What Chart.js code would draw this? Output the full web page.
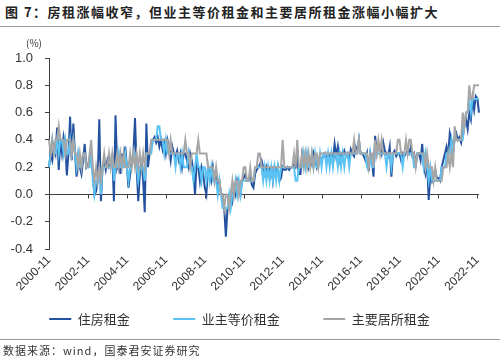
<!DOCTYPE html>
<html>
<head>
<meta charset="utf-8">
<title>房租涨幅收窄</title>
<script src="https://cdn.jsdelivr.net/npm/chart.js@4.4.0/dist/chart.umd.min.js"></script>
<style>
    body {
        margin: 0;
        background: #fff;
    }
    #wrap {
        position: relative;
        width: 500px;
        height: 361px;
        overflow: hidden;
        font-family: "Noto Sans CJK SC", sans-serif;
        color: #333;
    }
    #title {
        position: absolute;
        left: 5px;
        top: 3px;
        font-size: 13px;
        font-weight: bold;
        letter-spacing: 1.5px;
        line-height: 18px;
        white-space: nowrap;
        color: #222;
    }
    .rule {
        position: absolute;
        left: 0;
        width: 500px;
        height: 1px;
        background: #9a9a9a;
    }
    #unit {
        position: absolute;
        left: 26px;
        top: 37px;
        font-size: 10px;
        line-height: 12px;
    }
    #src {
        position: absolute;
        left: 3px;
        top: 343px;
        font-size: 11px;
        letter-spacing: 1px;
        line-height: 15px;
        white-space: nowrap;
    }
    canvas {
        position: absolute;
        left: 0;
        top: 0;
    }
</style>
</head>
<body>
<div id="wrap">
    <div id="title">图 7：房租涨幅收窄，但业主等价租金和主要居所租金涨幅小幅扩大</div>
    <div class="rule" style="top:26px"></div>
    <canvas id="rentChart" width="500" height="361"></canvas>
    <div id="unit">(%)</div>
    <div class="rule" style="top:339px"></div>
    <div id="src">数据来源：wind，国泰君安证券研究</div>
</div>

<script>
    // 月度数据 2000-11 ~ 2022-12，环比(%)，每行12个月（11月~次年10月）
    const startYear = 2000, startMonth = 11;
    const tickEvery = 24;   // 每两年一个刻度
    const yTicks = [-0.4, -0.2, 0.0, 0.2, 0.4, 0.6, 0.8, 1.0];

    // 住房租金
    const rent = [
        0.20, 0.30, 0.25, 0.35, 0.30, 0.49, 0.18, 0.40, 0.30, 0.42, 0.35, 0.14,
        0.30, 0.57, 0.25, 0.52, 0.30, 0.13, 0.28, 0.20, 0.15, 0.25, 0.37, 0.20,
        0.22, 0.25, 0.30, 0.15, 0.00, 0.02, 0.10, 0.55, -0.05, 0.20, 0.25, 0.18,
        0.25, 0.20, 0.22, 0.30, -0.05, 0.58, 0.20, 0.25, 0.15, 0.30, 0.20, 0.35,
        0.20, 0.05, 0.15, 0.25, 0.30, 0.56, 0.20, -0.05, 0.15, 0.25, 0.10, -0.13,
        0.52, 0.20, 0.30, 0.35, 0.40, 0.42, 0.38, 0.42, 0.35, 0.40, 0.33, 0.38,
        0.30, 0.40, 0.35, 0.25, 0.35, 0.30, 0.28, 0.32, 0.25, 0.30, 0.20, 0.30,
        0.30, 0.25, 0.20, 0.30, 0.25, 0.15, 0.00, 0.25, 0.20, 0.10, 0.20, 0.15,
        0.05, 0.00, 0.20, 0.15, 0.10, 0.20, 0.10, 0.15, 0.05, 0.10, 0.00, 0.00,
        -0.10, -0.31, -0.10, -0.10, 0.00, -0.05, 0.05, 0.00, 0.10, 0.05, 0.00, 0.10,
        0.12, 0.15, 0.10, 0.10, 0.15, 0.07, 0.05, 0.15, 0.18, 0.20, 0.22, 0.25,
        0.20, 0.15, 0.20, 0.15, 0.20, 0.20, 0.10, 0.20, 0.15, 0.20, 0.10, 0.12,
        0.20, 0.18, 0.18, 0.20, 0.18, 0.20, 0.20, 0.22, 0.20, 0.25, 0.15, 0.15,
        0.30, 0.25, 0.22, 0.28, 0.20, 0.25, 0.22, 0.30, 0.25, 0.20, 0.25, 0.28,
        0.25, 0.28, 0.30, 0.25, 0.30, 0.28, 0.30, 0.25, 0.37, 0.28, 0.35, 0.25,
        0.30, 0.28, 0.32, 0.28, 0.30, 0.25, 0.33, 0.30, 0.28, 0.35, 0.32, 0.40,
        0.30, 0.30, 0.28, 0.25, 0.30, 0.17, 0.30, 0.25, 0.13, 0.43, 0.30, 0.35,
        0.35, 0.30, 0.38, 0.32, 0.30, 0.28, 0.35, 0.13, 0.30, 0.32, 0.28, 0.30,
        0.30, 0.25, 0.30, 0.28, 0.30, 0.32, 0.30, 0.35, 0.28, 0.30, 0.22, 0.30,
        0.30, 0.25, 0.37, 0.20, 0.15, 0.25, -0.04, 0.15, 0.10, 0.15, 0.18, 0.12,
        0.12, 0.10, 0.20, 0.25, 0.30, 0.35, 0.28, 0.45, 0.40, 0.30, 0.42, 0.45,
        0.40, 0.42, 0.38, 0.45, 0.50, 0.55, 0.48, 0.60, 0.55, 0.70, 0.62, 0.72,
        0.70, 0.60
    ];

    // 业主等价租金
    const oer = [
        0.20, 0.30, 0.40, 0.30, 0.30, 0.40, 0.30, 0.40, 0.40, 0.30, 0.40, 0.30,
        0.30, 0.40, 0.30, 0.40, 0.30, 0.20, 0.30, 0.20, 0.20, 0.30, 0.30, 0.20,
        0.20, 0.20, 0.30, 0.10, 0.00, 0.10, 0.10, 0.20, 0.00, 0.20, 0.20, 0.20,
        0.20, 0.20, 0.20, 0.30, 0.10, 0.20, 0.20, 0.30, 0.20, 0.20, 0.20, 0.30,
        0.20, 0.10, 0.20, 0.20, 0.30, 0.30, 0.20, 0.10, 0.20, 0.20, 0.20, 0.10,
        0.30, 0.30, 0.30, 0.30, 0.40, 0.40, 0.40, 0.50, 0.50, 0.40, 0.40, 0.30,
        0.40, 0.30, 0.30, 0.30, 0.30, 0.30, 0.20, 0.30, 0.30, 0.20, 0.30, 0.20,
        0.20, 0.20, 0.30, 0.20, 0.20, 0.10, 0.20, 0.30, 0.20, 0.20, 0.10, 0.20,
        0.20, 0.10, 0.20, 0.10, 0.20, 0.10, 0.10, 0.10, 0.00, 0.10, 0.00, -0.10,
        -0.10, -0.10, -0.10, 0.00, -0.10, 0.00, 0.00, 0.10, 0.00, 0.10, 0.00, 0.10,
        0.10, 0.10, 0.10, 0.10, 0.10, 0.10, 0.10, 0.20, 0.20, 0.20, 0.20, 0.20,
        0.10, 0.20, 0.10, 0.20, 0.10, 0.20, 0.10, 0.20, 0.10, 0.20, 0.10, 0.20,
        0.20, 0.20, 0.20, 0.20, 0.20, 0.20, 0.20, 0.20, 0.10, 0.10, 0.20, 0.20,
        0.20, 0.30, 0.20, 0.30, 0.20, 0.20, 0.30, 0.20, 0.30, 0.20, 0.20, 0.30,
        0.20, 0.30, 0.30, 0.20, 0.30, 0.20, 0.30, 0.20, 0.30, 0.30, 0.20, 0.30,
        0.20, 0.30, 0.20, 0.30, 0.30, 0.20, 0.30, 0.30, 0.30, 0.30, 0.30, 0.40,
        0.30, 0.30, 0.30, 0.30, 0.20, 0.20, 0.30, 0.20, 0.20, 0.30, 0.30, 0.30,
        0.30, 0.30, 0.30, 0.30, 0.20, 0.30, 0.30, 0.20, 0.30, 0.30, 0.30, 0.30,
        0.30, 0.30, 0.20, 0.30, 0.30, 0.30, 0.30, 0.30, 0.30, 0.20, 0.20, 0.30,
        0.30, 0.30, 0.30, 0.20, 0.30, 0.20, 0.10, 0.20, 0.10, 0.10, 0.10, 0.10,
        0.10, 0.10, 0.20, 0.20, 0.20, 0.30, 0.30, 0.30, 0.40, 0.30, 0.40, 0.40,
        0.40, 0.40, 0.40, 0.40, 0.50, 0.60, 0.60, 0.70, 0.60, 0.70, 0.70, 0.70,
        0.70, 0.70
    ];

    // 主要居所租金
    const primary = [
        0.40, 0.30, 0.40, 0.30, 0.40, 0.40, 0.50, 0.40, 0.40, 0.40, 0.30, 0.40,
        0.40, 0.40, 0.30, 0.40, 0.30, 0.30, 0.20, 0.30, 0.20, 0.30, 0.30, 0.20,
        0.20, 0.30, 0.40, 0.20, 0.10, 0.20, 0.10, 0.20, 0.10, 0.20, 0.30, 0.20,
        0.20, 0.30, 0.20, 0.30, 0.20, 0.20, 0.30, 0.20, 0.30, 0.20, 0.30, 0.20,
        0.20, 0.20, 0.30, 0.20, 0.30, 0.20, 0.30, 0.20, 0.30, 0.20, 0.30, 0.20,
        0.30, 0.30, 0.30, 0.40, 0.40, 0.40, 0.40, 0.40, 0.40, 0.40, 0.40, 0.40,
        0.40, 0.40, 0.30, 0.40, 0.30, 0.30, 0.30, 0.30, 0.30, 0.30, 0.30, 0.30,
        0.40, 0.30, 0.30, 0.20, 0.30, 0.30, 0.30, 0.30, 0.40, 0.30, 0.30, 0.30,
        0.30, 0.30, 0.20, 0.20, 0.20, 0.20, 0.10, 0.20, 0.10, 0.10, 0.00, 0.00,
        -0.10, 0.00, 0.00, -0.10, 0.00, 0.10, 0.00, 0.10, 0.10, 0.00, 0.10, 0.10,
        0.20, 0.20, 0.10, 0.10, 0.20, 0.10, 0.10, 0.20, 0.20, 0.30, 0.30, 0.20,
        0.20, 0.20, 0.20, 0.20, 0.20, 0.20, 0.20, 0.20, 0.20, 0.20, 0.20, 0.20,
        0.40, 0.20, 0.20, 0.20, 0.20, 0.20, 0.20, 0.30, 0.20, 0.40, 0.20, 0.20,
        0.30, 0.20, 0.30, 0.20, 0.30, 0.20, 0.30, 0.20, 0.30, 0.30, 0.20, 0.30,
        0.30, 0.30, 0.30, 0.30, 0.30, 0.30, 0.30, 0.30, 0.30, 0.30, 0.30, 0.30,
        0.30, 0.30, 0.30, 0.30, 0.30, 0.30, 0.30, 0.30, 0.40, 0.30, 0.30, 0.40,
        0.30, 0.30, 0.30, 0.30, 0.30, 0.20, 0.30, 0.30, 0.20, 0.40, 0.30, 0.40,
        0.30, 0.40, 0.30, 0.30, 0.30, 0.30, 0.30, 0.30, 0.30, 0.30, 0.30, 0.40,
        0.40, 0.30, 0.30, 0.30, 0.40, 0.30, 0.40, 0.40, 0.30, 0.30, 0.20, 0.30,
        0.30, 0.30, 0.30, 0.30, 0.20, 0.30, 0.20, 0.20, 0.20, 0.10, 0.20, 0.10,
        0.10, 0.10, 0.10, 0.20, 0.20, 0.20, 0.30, 0.20, 0.30, 0.20, 0.50, 0.40,
        0.40, 0.40, 0.40, 0.60, 0.50, 0.60, 0.60, 0.80, 0.70, 0.70, 0.80, 0.80,
        0.80, 0.80
    ];

    // 月份标签
    const labels = [];
    for (let i = 0; i < rent.length; i++) {
        const m = startMonth - 1 + i;
        const y = startYear + Math.floor(m / 12);
        const mm = (m % 12) + 1;
        labels.push(y + '-' + (mm < 10 ? '0' + mm : mm));
    }

    // 0轴线和刻度（Excel风格，横轴穿过0）
    const zeroAxis = {
        id: 'zeroAxis',
        beforeDatasetsDraw(chart) {
            const {ctx, chartArea, scales} = chart;
            const y0 = Math.round(scales.y.getPixelForValue(0)) + 0.5;
            ctx.save();
            ctx.strokeStyle = '#404040';
            ctx.lineWidth = 1;
            ctx.beginPath();
            ctx.moveTo(chartArea.left, y0);
            ctx.lineTo(chartArea.right, y0);
            for (let i = 0; i < labels.length; i += tickEvery) {
                const x = Math.round(scales.x.getPixelForValue(i)) + 0.5;
                ctx.moveTo(x, y0);
                ctx.lineTo(x, y0 + 4);
            }
            ctx.stroke();
            ctx.restore();
        }
    };

    Chart.defaults.font.family = '"Liberation Sans", Arial, sans-serif';
    Chart.defaults.color = '#333';

    const ctx = document.getElementById('rentChart').getContext('2d');
    new Chart(ctx, {
        type: 'line',
        data: {
            labels: labels,
            datasets: [{
                label: '住房租金',
                data: rent,
                borderColor: '#2452a0',
                backgroundColor: '#2452a0',
                borderWidth: 2,
                pointRadius: 0,
                order: 3
            }, {
                label: '业主等价租金',
                data: oer,
                borderColor: '#5bc3f3',
                backgroundColor: '#5bc3f3',
                borderWidth: 2,
                pointRadius: 0,
                order: 2
            }, {
                label: '主要居所租金',
                data: primary,
                borderColor: '#a6a6a6',
                backgroundColor: '#a6a6a6',
                borderWidth: 2,
                pointRadius: 0,
                order: 1
            }]
        },
        options: {
            responsive: false,
            animation: false,
            layout: {
                padding: {top: 58, right: 21, bottom: 25.5, left: 0}
            },
            plugins: {
                tooltip: {enabled: false},
                legend: {
                    position: 'bottom',
                    labels: {
                        usePointStyle: true,
                        pointStyle: 'line',
                        pointStyleWidth: 22,
                        padding: 11,
                        color: '#333',
                        font: {family: '"Noto Sans CJK SC", sans-serif', size: 13},
                        // 图例项之间留出较宽的间距
                        generateLabels: function (chart) {
                            const items = Chart.defaults.plugins.legend.labels.generateLabels(chart);
                            items.forEach(it => {
                                if (it.datasetIndex < 2) it.text += '\u3000\u3000\u2002';
                            });
                            return items;
                        },
                        sort: (a, b) => a.datasetIndex - b.datasetIndex
                    }
                }
            },
            scales: {
                x: {
                    grid: {display: false, drawTicks: false},
                    border: {display: false},
                    ticks: {
                        autoSkip: false,
                        maxRotation: 45,
                        minRotation: 45,
                        padding: 4,
                        font: {size: 12},
                        callback: function (value, index) {
                            return index % tickEvery === 0 ? labels[index] : null;
                        }
                    },
                    afterFit: function (scale) {
                        scale.height = 52.5;
                    }
                },
                y: {
                    min: -0.4,
                    max: 1.0,
                    grid: {
                        drawOnChartArea: false,
                        drawTicks: true,
                        tickLength: 4,
                        color: '#404040'
                    },
                    border: {display: true, color: '#404040', width: 1},
                    ticks: {
                        padding: 12,
                        font: {size: 13},
                        callback: function (value) {
                            return value.toFixed(1);
                        }
                    },
                    afterBuildTicks: function (scale) {
                        scale.ticks = yTicks.map(v => ({value: v}));
                    },
                    afterFit: function (scale) {
                        scale.width = 49;
                    }
                }
            }
        },
        plugins: [zeroAxis]
    });
</script>
</body>
</html>
